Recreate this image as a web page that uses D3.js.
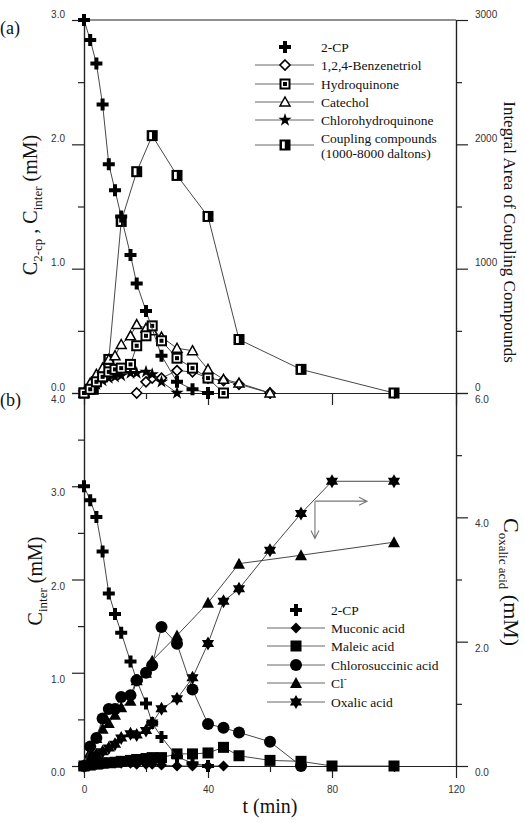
<!DOCTYPE html>
<html lang="en">
<head>
<meta charset="UTF-8">
<title>2-CP degradation</title>
<script src="https://d3js.org/d3.v7.min.js"></script>
<style>
  body { margin: 0; background: #fff; }
  .tick text { font-family: "Liberation Sans", Arial, sans-serif; font-size: 10px; fill: #333; }
  .serif { font-family: "Liberation Serif", "Times New Roman", serif; fill: #111; }
</style>
</head>
<body>
<script>

// ---- panel (a) ----
var tCpA = [0, 2, 4, 6, 8, 10, 12, 15, 17, 20, 25, 30, 35, 40];
var cpA  = [3.0, 2.84, 2.65, 2.32, 1.84, 1.63, 1.42, 1.11, 0.88, 0.66, 0.30, 0.09, 0.03, 0.0];

var tBT = [17, 20, 22, 25, 30, 35, 40, 45, 50, 60];
var vBT = [0, 0.09, 0.12, 0.12, 0.18, 0.17, 0.12, 0.10, 0.07, 0];

var tHQ = [0, 2, 4, 6, 8, 10, 12, 15, 17, 20, 22, 25, 30, 35, 40, 45];
var vHQ = [0, 0.03, 0.09, 0.13, 0.17, 0.19, 0.20, 0.23, 0.38, 0.46, 0.54, 0.42, 0.28, 0.20, 0.12, 0.0];

var tCat = [0, 2, 4, 6, 8, 10, 12, 15, 17, 20, 22, 25, 30, 35, 40, 45, 50, 60];
var vCat = [0, 0.08, 0.15, 0.20, 0.27, 0.30, 0.39, 0.46, 0.55, 0.52, 0.50, 0.45, 0.36, 0.34, 0.19, 0.11, 0.08, 0];

var tCHQ = [0, 2, 4, 6, 8, 10, 12, 15, 17, 20, 22, 25, 30];
var vCHQ = [0, 0.04, 0.07, 0.10, 0.12, 0.13, 0.14, 0.16, 0.16, 0.17, 0.15, 0.09, 0];

// coupling compounds, integral area (right axis)
var tCC = [0, 3, 8, 12, 17, 22, 30, 40, 50, 70, 100];
var vCC = [0, 30, 270, 1380, 1780, 2070, 1750, 1420, 430, 190, 0];

// ---- panel (b) ----
var tCpB = [0, 2, 4, 6, 8, 10, 12, 15, 17, 20, 22, 25, 30, 35, 40];
var cpB  = [3.0, 2.85, 2.67, 2.30, 1.85, 1.63, 1.43, 1.12, 0.92, 0.67, 0.46, 0.31, 0.10, 0.03, 0];

var tMuc = [0, 2, 4, 6, 8, 10, 12, 15, 17, 20, 22, 25, 30, 35, 40, 45];
var vMuc = [0, 0.01, 0.02, 0.02, 0.03, 0.03, 0.03, 0.03, 0.02, 0.02, 0.02, 0.01, 0, 0, 0, 0];

var tMal = [0, 2, 4, 6, 8, 10, 12, 15, 17, 20, 22, 25, 30, 35, 40, 45, 50, 60, 70, 80, 100];
var vMal = [0, 0.01, 0.02, 0.03, 0.035, 0.04, 0.05, 0.06, 0.07, 0.08, 0.09, 0.09, 0.13, 0.13, 0.14, 0.20, 0.11, 0.06, 0.05, 0, 0];

var tCS = [0, 2, 4, 6, 8, 10, 12, 15, 17, 20, 22, 25, 30, 35, 40, 45, 50, 60, 70];
var vCS = [0, 0.21, 0.30, 0.51, 0.61, 0.61, 0.74, 0.76, 0.92, 1.0, 1.08, 1.49, 1.31, 0.82, 0.45, 0.41, 0.36, 0.26, 0];

var tCl = [0, 2, 4, 6, 8, 10, 12, 15, 17, 20, 22, 30, 40, 50, 70, 100];
var vCl = [0, 0.15, 0.30, 0.40, 0.46, 0.55, 0.63, 0.70, 0.92, 1.0, 1.13, 1.40, 1.75, 2.17, 2.26, 2.40];

// oxalic acid (right axis)
var tOx = [0, 2, 4, 6, 8, 10, 12, 15, 17, 20, 22, 25, 30, 35, 40, 45, 50, 60, 70, 80, 100];
var vOx = [0, 0.10, 0.18, 0.23, 0.29, 0.35, 0.45, 0.52, 0.50, 0.57, 0.69, 0.92, 1.08, 1.42, 1.97, 2.65, 2.85, 3.47, 4.06, 4.58, 4.58];

// tick values
var xMajor = [0, 40, 80, 120], xMinor = [20, 60, 100];
var yAMajor = [0, 1, 2, 3], yAMinor = [0.5, 1.5, 2.5];
var yA2Major = [0, 1000, 2000, 3000], yA2Minor = [500, 1500, 2500];
var yBMajor = [0, 1, 2, 3, 4], yBMinor = [0.5, 1.5, 2.5, 3.5];
var yB2Major = [0, 2, 4, 6], yB2Minor = [1, 3, 5];

var W = 524, H = 823;
var svg = d3.select('body').append('svg').attr('width', W).attr('height', H);

var x = d3.scaleLinear().domain([0, 120]).range([84, 456]);
var yA = d3.scaleLinear().domain([0, 3]).range([393, 20]);
var yA2 = d3.scaleLinear().domain([0, 3000]).range([393, 20]);
var yB = d3.scaleLinear().domain([0, 4]).range([766, 393]);
var yB2 = d3.scaleLinear().domain([0, 6]).range([766, 393]);

// ---------- axes ----------
function styleAxis(g, dy) {
  g.select('.domain').attr('stroke', '#222').attr('stroke-width', 1.2);
  g.selectAll('.tick line').attr('stroke', '#222').attr('stroke-width', 1.2);
  g.selectAll('.tick text').attr('dy', dy);
}
function yAxes(scale, major, minor, fmt, xPos, side, dy) {
  var mk = side === 'left' ? d3.axisLeft : d3.axisRight;
  var g1 = svg.append('g').attr('transform', 'translate(' + xPos + ',0)')
    .call(mk(scale).tickValues(major).tickSize(12).tickSizeOuter(0).tickPadding(7).tickFormat(fmt));
  styleAxis(g1, dy);
  var g2 = svg.append('g').attr('transform', 'translate(' + xPos + ',0)')
    .call(mk(scale).tickValues(minor).tickSize(6).tickSizeOuter(0).tickFormat(''));
  styleAxis(g2, 0);
}
function xAxes(yPos, labels) {
  var g1 = svg.append('g').attr('transform', 'translate(0,' + yPos + ')')
    .call(d3.axisBottom(x).tickValues(xMajor).tickSize(12).tickSizeOuter(0).tickPadding(8)
      .tickFormat(labels ? d3.format('d') : ''));
  styleAxis(g1, '0.71em');
  var g2 = svg.append('g').attr('transform', 'translate(0,' + yPos + ')')
    .call(d3.axisBottom(x).tickValues(xMinor).tickSize(6).tickSizeOuter(0).tickFormat(''));
  styleAxis(g2, 0);
}

var f1 = d3.format('.1f');
yAxes(yA, yAMajor, yAMinor, f1, 84, 'left', '-0.3em');
yAxes(yA2, yA2Major, yA2Minor, d3.format('d'), 456, 'right', '-0.3em');
yAxes(yB, yBMajor, yBMinor, f1, 84, 'left', '0.95em');
yAxes(yB2, yB2Major, yB2Minor, f1, 456, 'right', '0.95em');
xAxes(393, false);
xAxes(766, true);

// top border
svg.append('line').attr('x1', x(0)).attr('x2', x(120)).attr('y1', yA(3)).attr('y2', yA(3))
  .attr('stroke', '#222').attr('stroke-width', 1.2);

// ---------- markers ----------
var star6 = 'M0,-7L6.1,3.5L-6.1,3.5Z M0,7L-6.1,-3.5L6.1,-3.5Z';
function marker(g, type, cx, cy) {
  var m = g.append('g').attr('transform', 'translate(' + cx + ',' + cy + ')');
  switch (type) {
    case 'plus':
      m.append('path').attr('d', d3.symbol(d3.symbolCross, 80)()).attr('fill', '#000'); break;
    case 'diamondOpen':
      m.append('path').attr('d', 'M0,-5L5,0L0,5L-5,0Z').attr('fill', '#fff').attr('stroke', '#000').attr('stroke-width', 1.6); break;
    case 'hydro':
      m.append('rect').attr('x', -4.5).attr('y', -4.5).attr('width', 9).attr('height', 9)
        .attr('fill', '#fff').attr('stroke', '#000').attr('stroke-width', 2);
      m.append('rect').attr('x', -2).attr('y', -2).attr('width', 4).attr('height', 4).attr('fill', '#000'); break;
    case 'triOpen':
      m.append('path').attr('d', 'M0,-5L5,4L-5,4Z').attr('fill', '#fff').attr('stroke', '#000').attr('stroke-width', 1.5); break;
    case 'star5':
      m.append('path').attr('d', d3.symbol(d3.symbolStar, 55)()).attr('fill', '#000'); break;
    case 'coupling':
      m.append('rect').attr('x', -5.5).attr('y', -5.5).attr('width', 11).attr('height', 11).attr('fill', '#000');
      m.append('rect').attr('x', -3).attr('y', -3.5).attr('width', 2.8).attr('height', 7).attr('fill', '#fff'); break;
    case 'diamond':
      m.append('path').attr('d', 'M0,-5.5L5.5,0L0,5.5L-5.5,0Z').attr('fill', '#000'); break;
    case 'square':
      m.append('rect').attr('x', -5.5).attr('y', -5.5).attr('width', 11).attr('height', 11).attr('fill', '#000'); break;
    case 'circle':
      m.append('circle').attr('r', 6).attr('fill', '#000'); break;
    case 'tri':
      m.append('path').attr('d', 'M0,-6L6,5L-6,5Z').attr('fill', '#000'); break;
    case 'star6':
      m.append('path').attr('d', star6).attr('fill', '#000'); break;
  }
}

function series(tArr, vArr, ys, type, withLine) {
  var pts = d3.zip(tArr, vArr);
  var g = svg.append('g');
  if (withLine) {
    g.append('path').datum(pts)
      .attr('d', d3.line().x(function (d) { return x(d[0]); }).y(function (d) { return ys(d[1]); }))
      .attr('fill', 'none').attr('stroke', '#333').attr('stroke-width', 0.9);
  }
  pts.forEach(function (d) { marker(g, type, x(d[0]), ys(d[1])); });
}

// panel (a)
series(tCC, vCC, yA2, 'coupling', true);
series(tBT, vBT, yA, 'diamondOpen', true);
series(tCHQ, vCHQ, yA, 'star5', true);
series(tCat, vCat, yA, 'triOpen', true);
series(tHQ, vHQ, yA, 'hydro', true);
series(tCpA, cpA, yA, 'plus', true);

// panel (b)
series(tMuc, vMuc, yB, 'diamond', true);
series(tMal, vMal, yB, 'square', true);
series(tCl, vCl, yB, 'tri', true);
series(tOx, vOx, yB2, 'star6', true);
series(tCS, vCS, yB, 'circle', true);
series(tCpB, cpB, yB, 'plus', true);

// arrow pointing to right axis / down
var ax0 = x(74.5), ay0 = yB2(4.26);
var axh = x(91.3), ayv = yB2(3.66);
var arr = svg.append('g').attr('stroke', '#777').attr('stroke-width', 1.1).attr('fill', 'none');
arr.append('path').attr('d', 'M' + ax0 + ',' + ay0 + 'H' + axh + 'M' + (axh - 8) + ',' + (ay0 - 4) + 'L' + axh + ',' + ay0 + 'L' + (axh - 8) + ',' + (ay0 + 4));
arr.append('path').attr('d', 'M' + ax0 + ',' + ay0 + 'V' + ayv + 'M' + (ax0 - 4) + ',' + (ayv - 8) + 'L' + ax0 + ',' + ayv + 'L' + (ax0 + 4) + ',' + (ayv - 8));

// ---------- legends ----------
var legA = [
  {label: ['2-CP'], type: 'plus', line: false},
  {label: ['1,2,4-Benzenetriol'], type: 'diamondOpen', line: true},
  {label: ['Hydroquinone'], type: 'hydro', line: true},
  {label: ['Catechol'], type: 'triOpen', line: true},
  {label: ['Chlorohydroquinone'], type: 'star5', line: true},
  {label: ['Coupling compounds', '(1000-8000 daltons)'], type: 'coupling', line: true}
];
var legAy = [47, 65, 84, 102, 120, 145];
legA.forEach(function (d, i) {
  var yy = legAy[i];
  if (d.line) svg.append('line').attr('x1', 255).attr('x2', 314).attr('y1', yy).attr('y2', yy)
    .attr('stroke', '#555').attr('stroke-width', 0.9);
  marker(svg, d.type, 285, yy);
  var t = svg.append('text').attr('class', 'serif').attr('font-size', 13.5).attr('x', 321);
  if (d.label.length === 1) {
    t.attr('y', yy + 4.5).text(d.label[0]);
  } else {
    t.attr('y', yy - 2);
    t.append('tspan').attr('x', 321).text(d.label[0]);
    t.append('tspan').attr('x', 321).attr('dy', 15).text(d.label[1]);
  }
});

var legB = [
  {label: '2-CP', type: 'plus', line: false},
  {label: 'Muconic acid', type: 'diamond', line: true},
  {label: 'Maleic acid', type: 'square', line: true},
  {label: 'Chlorosuccinic acid', type: 'circle', line: true},
  {label: 'Cl', sup: '-', type: 'tri', line: true},
  {label: 'Oxalic acid', type: 'star6', line: true}
];
var legBy = [610, 628, 646, 665, 683, 702];
legB.forEach(function (d, i) {
  var yy = legBy[i];
  if (d.line) svg.append('line').attr('x1', 267).attr('x2', 325).attr('y1', yy).attr('y2', yy)
    .attr('stroke', '#555').attr('stroke-width', 0.9);
  marker(svg, d.type, 296, yy);
  var t = svg.append('text').attr('class', 'serif').attr('font-size', 13.5).attr('x', 331).attr('y', yy + 4.5);
  t.append('tspan').text(d.label);
  if (d.sup) t.append('tspan').attr('font-size', 9).attr('dy', -6).text(d.sup);
});

// ---------- axis titles ----------
svg.append('text').attr('class', 'serif').attr('font-size', 18).attr('x', 0).attr('y', 34).text('(a)');
svg.append('text').attr('class', 'serif').attr('font-size', 18).attr('x', 0).attr('y', 406).text('(b)');
svg.append('text').attr('class', 'serif').attr('font-size', 20).attr('x', 270).attr('y', 813)
  .attr('text-anchor', 'middle').text('t (min)');

var la = svg.append('text').attr('class', 'serif').attr('font-size', 20).attr('text-anchor', 'middle')
  .attr('transform', 'translate(37,205) rotate(-90)');
la.append('tspan').text('C');
la.append('tspan').attr('font-size', 13).attr('dy', 5).text('2-cp');
la.append('tspan').attr('dy', -5).text(' , C');
la.append('tspan').attr('font-size', 13).attr('dy', 5).text('inter');
la.append('tspan').attr('dy', -5).text(' (mM)');

svg.append('text').attr('class', 'serif').attr('font-size', 17).attr('text-anchor', 'middle')
  .attr('transform', 'translate(504,232) rotate(90)').text('Integral Area of Coupling Compounds');

var lb = svg.append('text').attr('class', 'serif').attr('font-size', 20).attr('text-anchor', 'middle')
  .attr('transform', 'translate(42,581) rotate(-90)');
lb.append('tspan').text('C');
lb.append('tspan').attr('font-size', 13).attr('dy', 5).text('inter');
lb.append('tspan').attr('dy', -5).text(' (mM)');

var rb = svg.append('text').attr('class', 'serif').attr('font-size', 22).attr('text-anchor', 'start')
  .attr('transform', 'translate(504,518) rotate(90)');
rb.append('tspan').text('C');
rb.append('tspan').attr('font-size', 13).attr('dy', 5).text('oxalic acid');
rb.append('tspan').attr('dy', -5).text(' (mM)');

</script>
</body>
</html>
